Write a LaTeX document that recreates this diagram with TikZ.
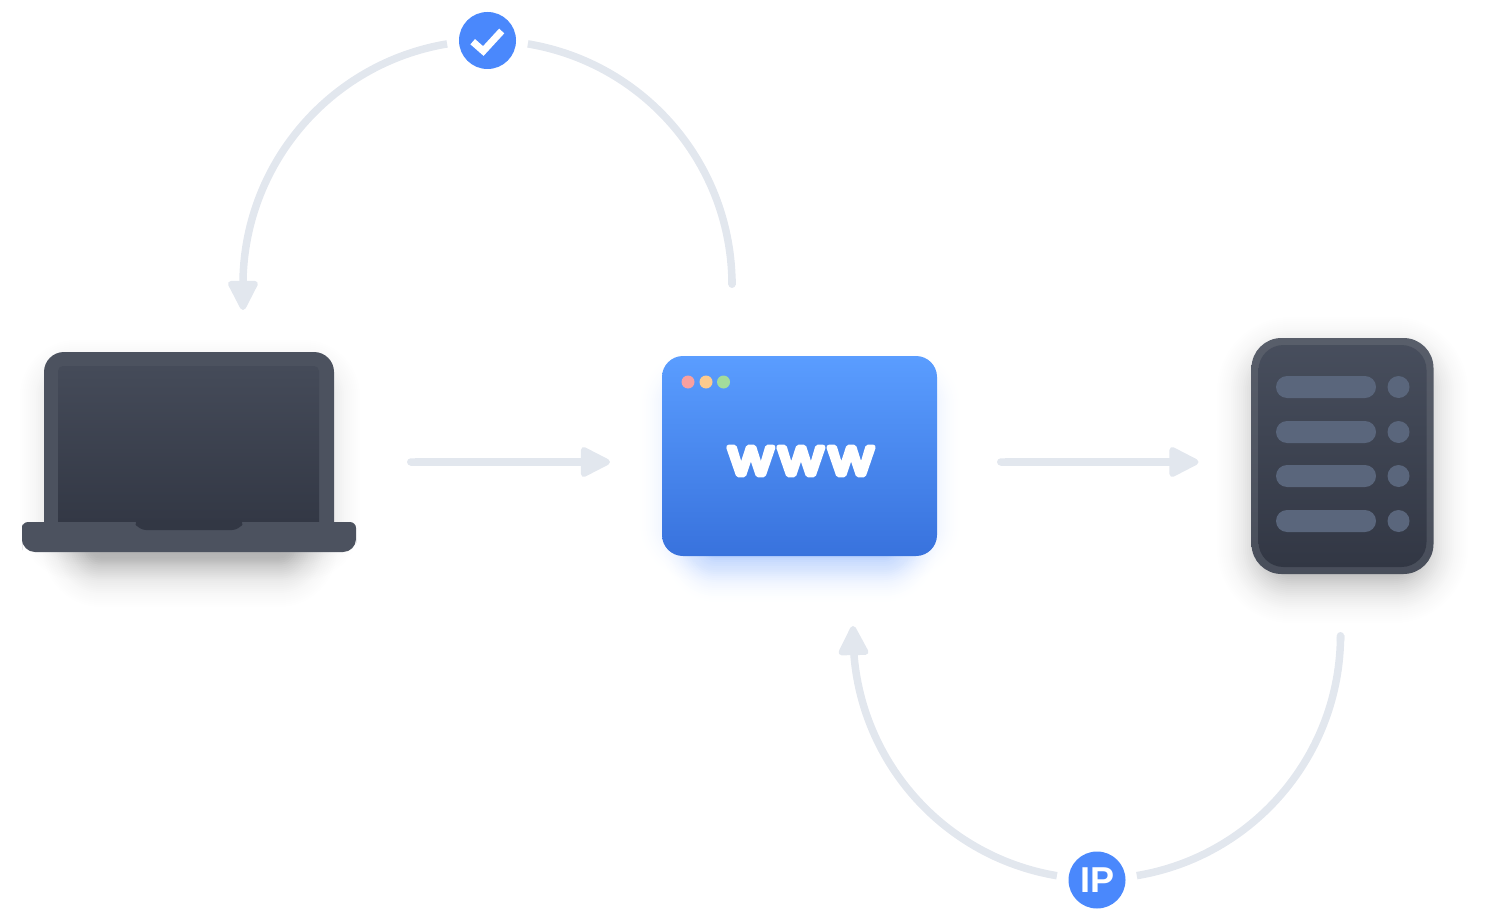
\documentclass[tikz,border=0pt]{standalone}
\usepackage{fontspec}
\usetikzlibrary{positioning,arrows.meta}
\setmainfont{Liberation Sans}
\newfontfamily\wwwfont[FakeBold=11,FakeStretch=1.1]{Poppins}

\definecolor{flowgray}{HTML}{E2E7EE}
\definecolor{badgeblue}{HTML}{4A88FC}
\definecolor{slatelid}{HTML}{4C525F}
\definecolor{slatetop}{HTML}{454B59}
\definecolor{slatedark}{HTML}{323744}
\definecolor{slatebar}{HTML}{5A667C}
\definecolor{browsertop}{HTML}{5A9DFF}
\definecolor{browserlow}{HTML}{3872DD}
\definecolor{dotred}{HTML}{F9A0A0}
\definecolor{dotorange}{HTML}{FDCB8E}
\definecolor{dotgreen}{HTML}{A3DC9B}

\tikzset{
  flowhead/.tip={Triangle[round,length=33pt,width=32pt,line width=6pt]},
  flow/.style={draw=flowgray, line width=7.5pt},
  badge/.style={circle, fill=badgeblue, minimum size=57pt, inner sep=0pt, outer sep=0pt, text=white},
  box/.style={rectangle, inner sep=0pt, outer sep=0pt}
}

% x1 y1 x2 y2 spread colour opacity
\newcommand{\softshadow}[7]{
  \foreach \r [evaluate=\r as \rad using {\r+16}, evaluate=\r as \op using {#7*(#5-\r)/#5}] in {-14,-12,...,#5}
    \fill[#6, opacity=\op, rounded corners=\rad pt]
      ({#1-\r},{#2-\r}) rectangle ({#3+\r},{#4+\r});
}

\begin{document}
\begin{tikzpicture}[x=1pt, y=-1pt]
    \useasboundingbox (0,0) rectangle (1490,920);

    % shadows
    \softshadow{60}{380}{320}{540}{50}{black}{.012}
    \softshadow{85}{530}{295}{565}{50}{black}{.014}
    \softshadow{680}{390}{920}{540}{45}{badgeblue}{.02}
    \softshadow{700}{530}{900}{566}{40}{badgeblue}{.024}
    \softshadow{1275}{375}{1410}{565}{65}{black}{.02}

    % laptop
    \node[box, minimum width=334pt, minimum height=200pt] (laptop) at (189,452) {};
    \fill[slatelid, rounded corners=20pt] (44,530) -- (44,352) -- (334,352) -- (334,530);
    \shade[top color=slatetop, bottom color=slatedark, rounded corners=5pt]
      (58,530) -- (58,366) -- (319,366) -- (319,530) -- cycle;
    \fill[slatelid, rounded corners=6pt] (22,537) -- (22,522) -- (356,522) -- (356,537)
      [rounded corners=13pt] -- (356,552) -- (22,552) -- cycle;
    \fill[slatedark, rounded corners=7pt] (133,520) -- (139,530) -- (239,530) -- (245,520) -- cycle;

    % browser
    \node[box, minimum width=275pt, minimum height=200pt, rounded corners=21pt,
      top color=browsertop, bottom color=browserlow] (browser) at (799.5,456) {};
    \fill[dotred] (688,382) circle (6.5);
    \fill[dotorange] (706,382) circle (6.5);
    \fill[dotgreen] (723.5,382) circle (6.5);
    \node[text=white, font=\wwwfont\fontsize{50}{50}\selectfont, inner sep=0pt] (www) at (801,461)
      {\pgfsetroundjoin\pgfsetroundcap w\kern5pt w\kern5pt w};

    % server
    \node[box, minimum width=182pt, minimum height=236pt, rounded corners=30pt,
      top color=slatelid!93!white, bottom color=slatelid!95!black] (server) at (1342.5,456) {};
    \node[box, minimum width=168pt, minimum height=222pt, rounded corners=25pt,
      top color=slatetop!90!slatebar, bottom color=slatedark] (serverFace) at (server) {};
    \foreach \row in {387,432,476,521} {
      \fill[slatebar, rounded corners=11pt] (1276,\row-11) rectangle (1376,\row+11);
      \fill[slatebar] (1398.5,\row) circle (11);
    }

    % badges
    \node[badge] (checkBadge) at (487.5,40.5) {};
    \draw[white, line width=7pt] (472.7,41.7) -- (483.3,51) -- (501.7,31);
    \node[badge, font=\bfseries\fontsize{36}{36}\selectfont] (ipBadge) at (1097,880) {IP};

    % connectors
    \coordinate (laptopOut) at ([shift={(51,10)}]laptop.east);
    \coordinate (browserIn) at ([shift={(-52,6)}]browser.west);
    \coordinate (browserOut) at ([shift={(60,6)}]browser.east);
    \coordinate (serverIn) at ([shift={(-53,6)}]server.west);
    \coordinate (browserTop) at ([shift={(-67.5,-68)}]browser.north);
    \coordinate (laptopTip) at ([shift={(54,-42)}]laptop.north);
    \coordinate (serverLow) at ([shift={(-2,58)}]server.south);
    \coordinate (browserTip) at ([shift={(53.5,70)}]browser.south);
    \coordinate (checkLeft) at ([shift={(-40.4,3.4)}]checkBadge.center);
    \coordinate (ipLeft) at ([shift={(-40.1,-4.3)}]ipBadge.center);

    \draw[flow, {Round Cap[]}-flowhead] (laptopOut) -- (browserIn);
    \draw[flow, {Round Cap[]}-flowhead] (browserOut) -- (serverIn);
    \draw[flow, {Round Cap[]}-] (browserTop) -- ++(0,-3) arc [start angle=0, end angle=-80.5, radius=244.5];
    \draw[flow, -flowhead] (checkLeft) arc [start angle=-99.5, end angle=-180, radius=244.5] -- (laptopTip);
    \draw[flow, {Round Cap[]}-] (serverLow) -- ++(0,3) arc [start angle=0, end angle=80.5, radius=244];
    \draw[flow, -flowhead] (ipLeft) arc [start angle=99.5, end angle=180, radius=244] -- (browserTip);
\end{tikzpicture}
\end{document}
